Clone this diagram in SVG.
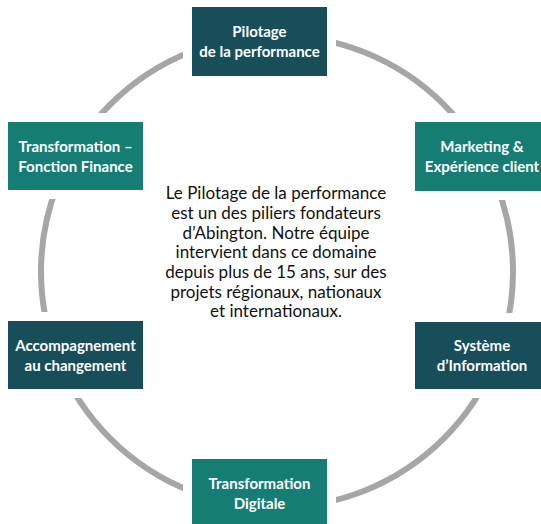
<svg xmlns="http://www.w3.org/2000/svg" width="541" height="524" viewBox="0 0 541 524">
<style>
.gap{fill:#ffffff}
.dark{fill:#174E5A}
.teal{fill:#167D74}
.lbl{font-family:Lato,"Liberation Sans",sans-serif;font-weight:bold;font-size:15px;fill:#ffffff;text-anchor:middle}
.body{font-family:Lato,"Liberation Sans",sans-serif;font-size:17px;fill:#111111;text-anchor:middle}
.ring{fill:none;stroke:#A6A6A6;stroke-width:6}
</style>
<rect width="541" height="524" fill="#ffffff"/>
<g id="connectors">
<circle class="ring" cx="277" cy="271.5" r="236"/>
</g>
<g id="pilotage">
<rect class="gap" x="183" y="-2" width="153" height="87"/>
<rect class="dark" x="192" y="7" width="135" height="69"/>
<text class="lbl" x="259.5" y="37">Pilotage</text>
<text class="lbl" x="259.5" y="57">de la performance</text>
</g>
<g id="transformation-finance">
<rect class="gap" x="-1" y="113" width="153" height="86"/>
<rect class="teal" x="8" y="122" width="135" height="68"/>
<text class="lbl" x="75.5" y="151.5">Transformation –</text>
<text class="lbl" x="75.5" y="171.5">Fonction Finance</text>
</g>
<g id="marketing">
<rect class="gap" x="406" y="113" width="153" height="87"/>
<rect class="teal" x="415" y="122" width="135" height="69"/>
<text class="lbl" x="482" y="151.5">Marketing &amp;</text>
<text class="lbl" x="482" y="171.5">Expérience client</text>
</g>
<g id="accompagnement">
<rect class="gap" x="-1" y="312" width="153" height="86"/>
<rect class="dark" x="8" y="321" width="135" height="68"/>
<text class="lbl" x="75.5" y="350.5">Accompagnement</text>
<text class="lbl" x="75.5" y="370.5">au changement</text>
</g>
<g id="systeme">
<rect class="gap" x="406" y="313" width="153" height="85"/>
<rect class="dark" x="415" y="322" width="135" height="67"/>
<text class="lbl" x="482" y="351">Système</text>
<text class="lbl" x="482" y="371">d’Information</text>
</g>
<g id="transformation-digitale">
<rect class="gap" x="183" y="450" width="153" height="86"/>
<rect class="teal" x="192" y="459" width="135" height="68"/>
<text class="lbl" x="259.5" y="488.5">Transformation</text>
<text class="lbl" x="259.5" y="508.5">Digitale</text>
</g>
<g id="description">
<text class="body" x="276" y="199">Le Pilotage de la performance</text>
<text class="body" x="276" y="219">est un des piliers fondateurs</text>
<text class="body" x="276" y="238.5">d’Abington. Notre équipe</text>
<text class="body" x="276" y="258">intervient dans ce domaine</text>
<text class="body" x="276" y="278">depuis plus de 15 ans, sur des</text>
<text class="body" x="276" y="297.5">projets régionaux, nationaux</text>
<text class="body" x="276" y="317">et internationaux.</text>
</g>
</svg>
